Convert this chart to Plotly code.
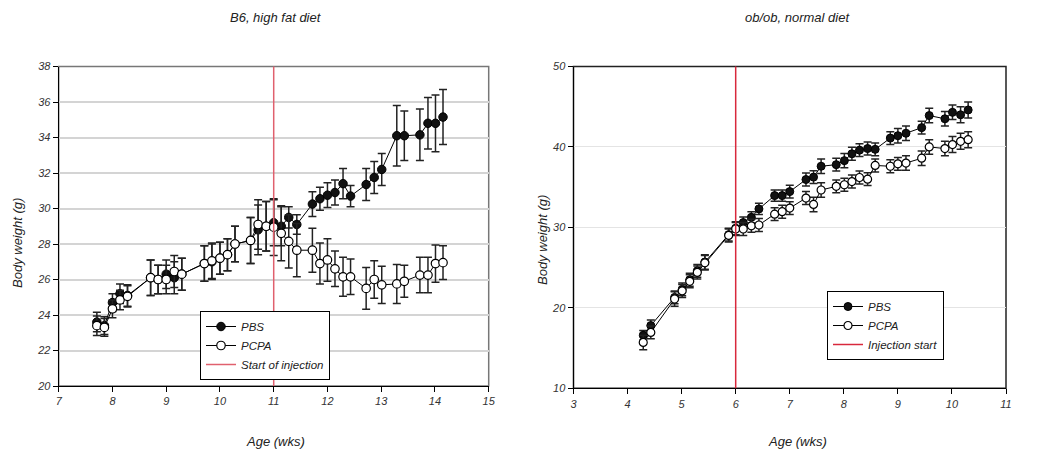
import plotly.graph_objects as go

# ---- B6, high fat diet ----
age_b6 = [7.71, 7.85, 8.0, 8.14, 8.28, 8.71, 8.85, 9.0, 9.15, 9.29,
          9.71, 9.85, 10.0, 10.14, 10.28, 10.57, 10.71, 10.86, 11.0, 11.14,
          11.28, 11.43, 11.72, 11.86, 12.0, 12.14, 12.29, 12.43, 12.72, 12.87,
          13.01, 13.29, 13.43, 13.72, 13.87, 14.01, 14.15]
pbs_b6 = [23.6, 23.4, 24.7, 25.2, 25.1, 26.1, 26.0, 26.3, 26.1, 26.3,
          26.9, 27.0, 27.2, 27.4, 28.0, 28.2, 28.8, 29.0, 29.2, 29.0,
          29.5, 29.1, 30.25, 30.55, 30.75, 30.9, 31.4, 30.7, 31.35, 31.75,
          32.2, 34.1, 34.1, 34.15, 34.8, 34.8, 35.15]
pbs_b6_err = [0.55, 0.5, 0.5, 0.55, 0.6, 1.0, 0.8, 0.8, 0.9, 0.9,
              1.0, 1.0, 0.9, 0.9, 1.0, 1.3, 1.4, 1.4, 1.3, 1.1,
              0.6, 0.55, 0.7, 0.65, 0.7, 0.7, 0.85, 0.6, 0.9, 0.9,
              0.9, 1.7, 1.4, 1.45, 1.45, 1.6, 1.55]
pcpa_b6 = [23.4, 23.3, 24.35, 24.85, 25.05, 26.1, 26.0, 26.0, 26.45, 26.3,
           26.9, 27.05, 27.2, 27.4, 28.0, 28.2, 29.1, 29.0, 28.95, 28.6,
           28.15, 27.65, 27.65, 26.9, 27.1, 26.6, 26.15, 26.15, 25.5, 26.0,
           25.7, 25.75, 25.9, 26.25, 26.25, 26.9, 26.95]
pcpa_b6_err = [0.55, 0.5, 0.5, 0.55, 0.6, 1.0, 0.8, 0.8, 0.9, 0.9,
               1.0, 1.0, 0.9, 0.9, 1.0, 1.3, 1.4, 1.4, 1.6, 1.55,
               1.5, 1.5, 1.24, 1.15, 1.2, 1.0, 1.1, 1.0, 1.17, 1.05,
               1.05, 1.1, 0.9, 1.0, 1.0, 1.05, 0.95]

# ---- ob/ob, normal diet ----
age_ob = [4.29, 4.43, 4.87, 5.01, 5.15, 5.29, 5.43, 5.87, 6.0, 6.14,
          6.29, 6.43, 6.72, 6.86, 7.0, 7.30, 7.44, 7.58, 7.86, 8.01,
          8.15, 8.29, 8.44, 8.58, 8.86, 9.0, 9.15, 9.44, 9.58, 9.87,
          10.01, 10.16, 10.30]
pbs_ob = [16.6, 17.8, 21.3, 22.3, 23.5, 24.6, 25.7, 29.1, 29.9, 30.6,
          31.25, 32.3, 33.95, 33.95, 34.45, 35.95, 36.25, 37.6, 37.8, 38.3,
          39.15, 39.6, 39.8, 39.7, 41.1, 41.4, 41.7, 42.4, 43.9, 43.5,
          44.3, 44.0, 44.6]
pbs_ob_err = [0.6, 0.7, 0.8, 0.8, 0.8, 0.8, 0.9, 0.8, 0.8, 0.7,
              0.7, 0.7, 0.7, 0.7, 0.8, 0.8, 0.8, 0.9, 0.8, 0.9,
              0.8, 0.8, 0.8, 0.8, 0.8, 0.9, 0.9, 0.8, 0.9, 0.9,
              0.9, 1.0, 1.0]
pcpa_ob = [15.7, 16.95, 21.1, 22.1, 23.3, 24.4, 25.6, 29.0, 29.8, 29.8,
           30.2, 30.3, 31.65, 31.95, 32.4, 33.65, 32.85, 34.65, 35.1, 35.3,
           35.7, 36.2, 36.0, 37.7, 37.6, 37.9, 38.0, 38.6, 40.0, 39.8,
           40.3, 40.7, 40.9]
pcpa_ob_err = [0.9, 0.8, 0.9, 0.8, 0.8, 0.8, 0.9, 0.8, 0.8, 0.8,
               0.8, 0.8, 0.8, 0.8, 0.8, 0.8, 0.9, 0.9, 0.8, 0.8,
               0.8, 0.8, 0.8, 0.8, 0.8, 0.8, 0.9, 0.9, 0.9, 0.9,
               1.0, 1.0, 1.0]

injection_b6 = 11
injection_ob = 6

FONT = "Liberation Sans, Arial, sans-serif"
ITAL = dict(family=FONT, style="italic")

W, H = 1037, 454
OFF = 8  # page body margin


def fx(p):
    return (p - OFF) / W


def fy(p):
    return 1 - (p - OFF) / H


def add_group(fig, x, pbs, pbs_err, pcpa, pcpa_err, xa, ya, legend, msize):
    fig.add_trace(go.Scatter(
        x=x, y=pbs, name="PBS", mode="lines+markers", xaxis=xa, yaxis=ya,
        legend=legend,
        line=dict(color="black", width=1),
        marker=dict(symbol="circle", size=msize, color="#111",
                    line=dict(color="black", width=1)),
        error_y=dict(type="data", array=pbs_err, color="#222",
                     thickness=1.5, width=4)))
    fig.add_trace(go.Scatter(
        x=x, y=pcpa, name="PCPA", mode="lines+markers", xaxis=xa, yaxis=ya,
        legend=legend,
        line=dict(color="black", width=1),
        marker=dict(symbol="circle", size=msize, color="white",
                    line=dict(color="black", width=1.2)),
        error_y=dict(type="data", array=pcpa_err, color="#222",
                     thickness=1.5, width=4)))


fig = go.Figure()
add_group(fig, age_b6, pbs_b6, pbs_b6_err, pcpa_b6, pcpa_b6_err,
          "x", "y", "legend", 8.5)
add_group(fig, age_ob, pbs_ob, pbs_ob_err, pcpa_ob, pcpa_ob_err,
          "x2", "y2", "legend2", 8)

# frames and injection lines
fig.add_shape(type="rect", xref="x domain", yref="y domain",
              x0=0, x1=1, y0=0, y1=1, line=dict(color="#777", width=1.5),
              layer="below")
fig.add_shape(type="rect", xref="x2 domain", yref="y2 domain",
              x0=0, x1=1, y0=0, y1=1, line=dict(color="#222", width=1.5),
              layer="below")
fig.add_shape(type="line", xref="x", yref="y domain",
              x0=injection_b6, x1=injection_b6, y0=0, y1=1,
              line=dict(color="#e0606e", width=1.5),
              showlegend=True, name="Start of injection", legend="legend")
fig.add_shape(type="line", xref="x2", yref="y2 domain",
              x0=injection_ob, x1=injection_ob, y0=0, y1=1,
              line=dict(color="#d8283c", width=1.5),
              showlegend=True, name="Injection start", legend="legend2")

axis_common = dict(
    showline=True, linecolor="black", linewidth=1, ticks="outside",
    ticklen=5, tickcolor="black", zeroline=False, automargin=False,
    tickfont=dict(size=11, color="#333", **ITAL),
)

fig.update_layout(
    width=W, height=H,
    margin=dict(l=0, r=0, t=0, b=0, autoexpand=False),
    paper_bgcolor="white", plot_bgcolor="white",
    font=dict(family=FONT, size=11, color="#222"),
    xaxis=dict(domain=[fx(58.7), fx(488.7)], range=[7, 15], dtick=1,
               showgrid=False, anchor="y", **axis_common),
    yaxis=dict(domain=[fy(386), fy(66.5)], range=[20, 38], dtick=2,
               showgrid=True, gridcolor="#d4d4d4", gridwidth=1.5,
               anchor="x", **axis_common),
    xaxis2=dict(domain=[fx(573.5), fx(1006)], range=[3, 11], dtick=1,
                showgrid=False, anchor="y2", **axis_common),
    yaxis2=dict(domain=[fy(388.3), fy(66.5)], range=[10, 50], dtick=10,
                showgrid=True, gridcolor="#e4e4e4", gridwidth=1,
                anchor="x2", **axis_common),
    legend=dict(x=fx(200), y=fy(311), xanchor="left", yanchor="top",
                bgcolor="white", bordercolor="black", borderwidth=1,
                font=dict(size=11.5, color="#222", **ITAL),
                tracegroupgap=0, itemwidth=30),
    legend2=dict(x=fx(827), y=fy(291), xanchor="left", yanchor="top",
                 bgcolor="white", bordercolor="black", borderwidth=1,
                 font=dict(size=11.5, color="#222", **ITAL),
                 tracegroupgap=0, itemwidth=30),
    showlegend=True,
)

titles = [
    ("B6, high fat diet", 276, None, 0),
    ("ob/ob, normal diet", 797, None, 0),
    ("Age (wks)", 275, 441, 0),
    ("Age (wks)", 797, 441, 0),
    ("Body weight (g)", 17, 243, -90),
    ("Body weight (g)", 542, 240, -90),
]
for text, px, py, ang in titles:
    if py is None:
        ypos, yanc = 1.0, "top"
    else:
        ypos, yanc = fy(py), "middle"
    fig.add_annotation(text=text, xref="paper", yref="paper",
                       x=fx(px), y=ypos, showarrow=False,
                       textangle=ang, xanchor="center", yanchor=yanc,
                       font=dict(size=13, color="#222", **ITAL))

fig.write_html("out.html")
